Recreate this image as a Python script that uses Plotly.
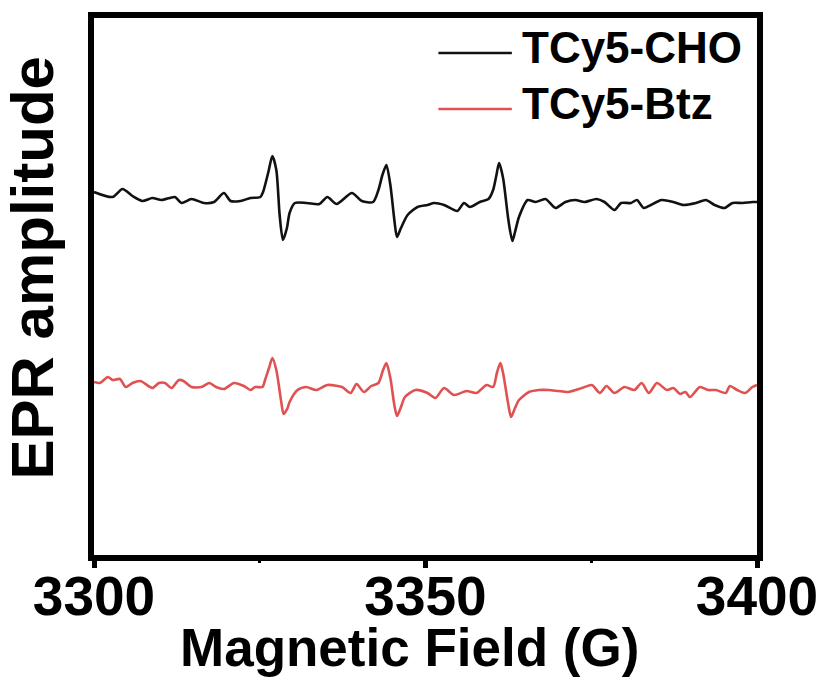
import plotly.graph_objects as go

# Magnetic field (G) and EPR amplitude (a.u., vertically offset traces)
field_cho = [3300.0, 3302.8, 3304.3, 3305.8, 3307.3, 3308.8, 3310.2, 3312.2, 3313.2, 3314.7,
             3316.6, 3318.1, 3319.6, 3320.6, 3322.1, 3323.6, 3325.1, 3325.5, 3326.3, 3326.9,
             3327.5, 3328.0, 3328.5, 3329.1, 3329.5, 3330.3, 3332.1, 3334.0, 3335.2, 3336.6,
             3338.9, 3340.4, 3342.1, 3342.9, 3343.5, 3344.1, 3344.7, 3345.3, 3345.7, 3346.3,
             3347.3, 3348.8, 3350.3, 3351.3, 3352.8, 3354.8, 3355.8, 3356.7, 3358.2, 3359.5,
             3360.2, 3360.7, 3361.1, 3361.7, 3362.5, 3363.1, 3363.5, 3364.1, 3365.4, 3366.6,
             3368.1, 3369.6, 3371.1, 3372.6, 3374.0, 3375.8, 3377.0, 3378.5, 3379.5, 3381.0,
             3381.9, 3382.9, 3384.0, 3385.6, 3387.4, 3388.9, 3390.8, 3392.3, 3393.6, 3395.1,
             3396.3, 3397.8, 3399.3, 3400.0]
amp_cho = [366, 361, 369, 362, 357, 360, 358, 361, 355, 359,
           355, 356, 365, 357, 357, 360, 361, 366, 386, 402,
           388, 343, 318, 330, 345, 355, 355, 354, 361, 354,
           365, 357, 356, 368, 383, 393, 373, 338, 321, 330,
           343, 351, 353, 355, 353, 347, 355, 351, 356, 359,
           368, 383, 395, 380, 338, 317, 326, 341, 358, 356,
           359, 350, 356, 358, 356, 359, 356, 348, 355, 355,
           358, 350, 353, 358, 356, 353, 355, 358, 353, 350,
           355, 355, 356, 356]

field_btz = [3300.0, 3300.9, 3302.1, 3302.8, 3303.9, 3304.8, 3305.8, 3307.0, 3308.8, 3309.8,
             3310.7, 3311.7, 3312.8, 3313.5, 3314.7, 3316.2, 3317.4, 3318.4, 3319.6, 3321.1,
             3322.6, 3323.6, 3324.3, 3325.4, 3325.8, 3326.4, 3326.9, 3327.5, 3328.2, 3328.6,
             3329.2, 3329.5, 3330.7, 3332.0, 3333.5, 3335.2, 3337.4, 3338.7, 3339.6, 3340.7,
             3341.8, 3342.9, 3343.6, 3344.1, 3344.7, 3345.3, 3345.7, 3346.3, 3346.9, 3348.5,
             3350.3, 3351.5, 3352.8, 3354.3, 3356.2, 3357.7, 3359.2, 3360.2, 3360.8, 3361.3,
             3361.7, 3362.5, 3362.9, 3363.5, 3364.1, 3365.6, 3367.1, 3368.6, 3370.0, 3371.5,
             3373.6, 3375.1, 3376.3, 3377.3, 3378.5, 3380.0, 3381.5, 3382.6, 3383.7, 3384.9,
             3386.4, 3387.4, 3388.4, 3389.2, 3389.9, 3391.4, 3392.6, 3393.8, 3395.3, 3395.9,
             3397.0, 3398.2, 3399.3, 3400.0]
amp_btz = [176, 175, 181, 178, 179, 171, 175, 177, 170, 175,
           175, 170, 178, 177, 171, 171, 175, 171, 169, 175,
           172, 168, 171, 171, 178, 190, 200, 188, 158, 144,
           150, 156, 168, 171, 168, 173, 171, 165, 174, 166,
           172, 175, 188, 195, 180, 153, 142, 151, 161, 168,
           165, 160, 170, 163, 167, 165, 173, 171, 186, 195,
           185, 153, 141, 150, 158, 166, 168, 168, 167, 166,
           170, 173, 165, 172, 165, 171, 168, 175, 165, 175,
           168, 170, 164, 166, 161, 171, 168, 168, 165, 172,
           168, 165, 171, 173]

series_names = ["TCy5-CHO", "TCy5-Btz"]
series_colors = ["#111111", "#E05252"]
x_ticks = [3300, 3350, 3400]

FONT = "Liberation Sans, Arial, Helvetica, sans-serif"

fig = go.Figure()
for fx, amp, name, col in [(field_cho, amp_cho, series_names[0], series_colors[0]),
                           (field_btz, amp_btz, series_names[1], series_colors[1])]:
    fig.add_trace(go.Scatter(x=fx, y=amp, mode="lines", name=name,
                             line=dict(color=col, width=2.6, shape="spline", smoothing=0.7),
                             showlegend=False))

L, R, T, B = 94, 68, 18, 123
W, H = 830, 678
pw, ph = W - L - R, H - T - B

def px_x(p):
    return (p - L) / pw

def px_y(p):
    return 1 - (p - T) / ph

# manual legend
for i, (name, col) in enumerate(zip(series_names, series_colors)):
    yl = [53, 109][i]
    yt = [47, 103][i]
    fig.add_shape(type="line", xref="paper", yref="paper",
                  x0=px_x(441), x1=px_x(515), y0=px_y(yl), y1=px_y(yl),
                  line=dict(color=col, width=2.5))
    fig.add_annotation(xref="paper", yref="paper", x=px_x(523), y=px_y(yt),
                       xanchor="left", yanchor="middle", showarrow=False,
                       text=f"<b>{name}</b>", font=dict(family=FONT, size=44, color="black"))

# axis titles
fig.add_annotation(xref="paper", yref="paper", x=px_x(412), y=px_y(647),
                   xanchor="center", yanchor="middle", showarrow=False,
                   text="<b>Magnetic Field (G)</b>", font=dict(family=FONT, size=53, color="black"))
fig.add_annotation(xref="paper", yref="paper", x=px_x(32), y=px_y(268),
                   xanchor="center", yanchor="middle", showarrow=False, textangle=-90,
                   text="<b>EPR amplitude</b>", font=dict(family=FONT, size=60, color="black"))

fig.update_layout(
    width=W, height=H,
    margin=dict(l=L, r=R, t=T, b=B),
    paper_bgcolor="white", plot_bgcolor="white",
    xaxis=dict(range=[3300, 3400], tickvals=x_ticks, ticktext=[str(v) for v in x_ticks],
               ticks="outside", ticklen=7, tickwidth=5, tickcolor="black",
               ticklabelstandoff=-19,
               minor=dict(tickvals=[3325, 3375], ticks="outside", ticklen=2, tickwidth=3, tickcolor="black"),
               showline=True, linewidth=5.5, linecolor="black", mirror=True,
               showgrid=False, zeroline=False,
               tickfont=dict(family=FONT, size=55, color="black", weight="bold")),
    yaxis=dict(range=[3, 540], showticklabels=False, ticks="",
               showline=True, linewidth=5.5, linecolor="black", mirror=True,
               showgrid=False, zeroline=False),
)

fig.write_html("out.html")
